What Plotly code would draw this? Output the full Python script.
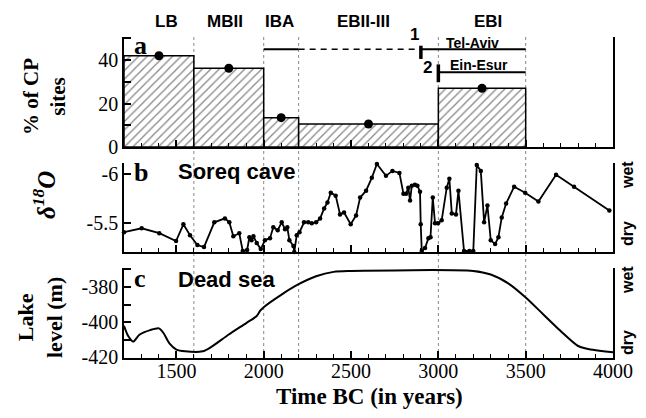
import plotly.graph_objects as go

# ---------------- data ----------------
period_names = ["LB", "MBII", "IBA", "EBII-III", "EBI"]
period_start = [1200, 1600, 2000, 2200, 3000]
period_end = [1600, 2000, 2200, 3000, 3500]
cp_sites_pct = [42, 36.2, 13.5, 10.6, 27]

boundaries = [1600, 2000, 2200, 3000, 3500]

iba_line = [2000, 2200]
dashed_line = [2200, 2900]
tel_aviv_line = [2900, 3500]
ein_esur_line = [3000, 3500]
upper_level = 45
ein_esur_level = 34.4
tel_aviv_tick = [40.5, 46.6]
ein_esur_tick = [29.8, 38]

soreq_year = [1200, 1301, 1402, 1498, 1540, 1578, 1620, 1658, 1717, 1778, 1803, 1826, 1860,
              1880, 1905, 1918, 1930, 1941, 1960, 1983, 2007, 2036, 2055, 2080, 2103, 2122,
              2135, 2147, 2170, 2175, 2189, 2205, 2231, 2255, 2275, 2300, 2323, 2346, 2365,
              2384, 2412, 2437, 2460, 2498, 2529, 2552, 2586, 2619, 2648, 2700, 2737, 2777,
              2800, 2815, 2828, 2838, 2848, 2866, 2880, 2895, 2899, 2905, 2924, 2943, 2955,
              2968, 2981, 2998, 3019, 3048, 3063, 3077, 3101, 3115, 3147, 3178, 3200, 3220,
              3243, 3262, 3281, 3300, 3325, 3344, 3363, 3388, 3434, 3497, 3573, 3674, 3777, 3979]
soreq_d18o = [-5.41, -5.45, -5.40, -5.32, -5.49, -5.38, -5.28, -5.26, -5.51, -5.55, -5.51, -5.37, -5.40,
              -5.22, -5.23, -5.36, -5.33, -5.37, -5.30, -5.24, -5.33, -5.35, -5.46, -5.43, -5.51, -5.44,
              -5.46, -5.33, -5.27, -5.21, -5.38, -5.41, -5.51, -5.51, -5.50, -5.51, -5.55, -5.65, -5.71,
              -5.81, -5.78, -5.59, -5.61, -5.49, -5.58, -5.76, -5.83, -5.96, -6.10, -5.98, -6.03, -6.01,
              -5.80, -5.80, -5.86, -5.73, -5.88, -5.89, -5.88, -5.82, -5.49, -5.22, -5.25, -5.35, -5.36,
              -5.76, -5.50, -5.50, -5.53, -5.86, -5.95, -5.60, -5.59, -5.83, -5.22, -5.22, -5.22, -6.09,
              -6.03, -5.51, -5.68, -5.33, -5.29, -5.36, -5.56, -5.70, -5.87, -5.81, -5.72, -5.99, -5.87, -5.63]

dead_sea_year = [1200, 1225, 1252, 1290, 1350, 1400, 1425, 1460, 1500, 1550, 1650, 1700, 1800,
                 1900, 1960, 1980, 2000, 2100, 2200, 2300, 2400, 2500, 3200, 3300, 3400, 3500,
                 3600, 3700, 3800, 3850, 4000]
dead_sea_level = [-402, -408, -411, -407, -404.5, -403.5, -406, -412, -415.5, -416.5, -416.5, -414, -407,
                  -400.5, -396.5, -393.5, -391.5, -384.5, -378.5, -374, -371.5, -371, -371, -373, -378, -386,
                  -395.5, -405, -413.5, -415, -417]

x_ticks = [1500, 2000, 2500, 3000, 3500, 4000]

# ---------------- layout geometry (window pixels) ----------------
W, H = 646, 418
OFF = 8  # default page body margin
L, R, T, B = 124, 613, 37, 358


def px(x):
    return (x - L) / (R - L)


def py(y):
    return (B - y) / (B - T)


SERIF = "Liberation Serif"
SANS = "Liberation Sans"

fig = go.Figure()

# panel a: bars
centers = [(s + e) / 2 for s, e in zip(period_start, period_end)]
widths = [e - s for s, e in zip(period_start, period_end)]
fig.add_trace(go.Bar(
    x=centers, y=cp_sites_pct, width=widths, xaxis="x", yaxis="y",
    marker=dict(color="white", line=dict(color="black", width=1.5),
                pattern=dict(shape="/", fgcolor="#111", bgcolor="white", size=6, solidity=0.22)),
    showlegend=False, hoverinfo="skip"))
fig.add_trace(go.Scatter(
    x=centers, y=cp_sites_pct, mode="markers", xaxis="x", yaxis="y",
    marker=dict(color="black", size=9), showlegend=False))

line_style = dict(color="black", width=2)
fig.add_trace(go.Scatter(x=iba_line, y=[upper_level] * 2, mode="lines", line=line_style,
                         xaxis="x", yaxis="y", showlegend=False, cliponaxis=False))
fig.add_trace(go.Scatter(x=dashed_line, y=[upper_level] * 2, mode="lines",
                         line=dict(color="black", width=1.5, dash="6px,5px"),
                         xaxis="x", yaxis="y", showlegend=False, cliponaxis=False))
fig.add_trace(go.Scatter(x=tel_aviv_line, y=[upper_level] * 2, mode="lines", line=line_style,
                         xaxis="x", yaxis="y", showlegend=False, cliponaxis=False))
fig.add_trace(go.Scatter(x=ein_esur_line, y=[ein_esur_level] * 2, mode="lines", line=line_style,
                         xaxis="x", yaxis="y", showlegend=False, cliponaxis=False))
fig.add_trace(go.Scatter(x=[tel_aviv_line[0]] * 2, y=tel_aviv_tick, mode="lines",
                         line=dict(color="black", width=3.5),
                         xaxis="x", yaxis="y", showlegend=False, cliponaxis=False))
fig.add_trace(go.Scatter(x=[ein_esur_line[0]] * 2, y=ein_esur_tick, mode="lines",
                         line=dict(color="black", width=3.5),
                         xaxis="x", yaxis="y", showlegend=False, cliponaxis=False))

# panel b: Soreq cave
fig.add_trace(go.Scatter(x=soreq_year, y=soreq_d18o, mode="lines+markers", xaxis="x2", yaxis="y2",
                         line=dict(color="black", width=1.8), marker=dict(color="black", size=4.5),
                         showlegend=False, cliponaxis=False))

# panel c: Dead sea
fig.add_trace(go.Scatter(x=dead_sea_year, y=dead_sea_level, mode="lines", xaxis="x3", yaxis="y3",
                         line=dict(color="black", width=2, shape="spline", smoothing=0.8),
                         showlegend=False))

# dotted boundary lines spanning all panels
for b in boundaries:
    fig.add_shape(type="line", xref="x", yref="paper", x0=b, x1=b, y0=0, y1=1,
                  line=dict(color="#888", width=1, dash="dot"), layer="below")

tickfont = dict(family=SERIF, size=20, color="black")


def xax(anchor, labels):
    d = dict(domain=[0, 1], range=[1200, 4000], anchor=anchor, showline=True, linecolor="black",
             linewidth=1.5, ticks="inside", ticklen=7, tickwidth=1.5, tickcolor="black",
             tickvals=x_ticks, showticklabels=labels, tickfont=tickfont, showgrid=False,
             zeroline=False, minor=dict(ticks="inside", dtick=100, tick0=1200, ticklen=4,
                                        tickwidth=1.2, tickcolor="black", showgrid=False))
    if labels:
        d["ticklabelstandoff"] = -6
    return d


def yax(anchor, dom, rng, vals, text, minor_dtick=None):
    d = dict(domain=dom, range=rng, anchor=anchor, showline=True, linecolor="black", linewidth=1.5,
             mirror=True, ticks="inside", ticklen=7, tickwidth=1.5, tickcolor="black",
             tickvals=vals, ticktext=text, tickfont=tickfont, showgrid=False, zeroline=False)
    if minor_dtick:
        d["minor"] = dict(ticks="inside", dtick=minor_dtick, ticklen=7, tickwidth=1.5,
                          tickcolor="black", showgrid=False)
    return d


fig.update_layout(
    width=W - OFF, height=H - OFF, plot_bgcolor="white", paper_bgcolor="white",
    margin=dict(l=L - OFF, r=W - R, t=T - OFF, b=H - B),
    showlegend=False,
    xaxis=xax("y", False),
    xaxis2=xax("y2", False),
    xaxis3=xax("y3", True),
    yaxis=yax("x", [py(147), 1], [0, 50.6], [0, 20, 40], ["0", "20", "40"], 10),
    yaxis2=yax("x2", [py(252), py(163)], [-5.21, -6.11], [-6, -5.5], ["-6", "-5.5"]),
    yaxis3=yax("x3", [0, py(268)], [-420.3, -369.3], [-420, -400, -380], ["-420", "-400", "-380"], 10),
)

ann = []


def add_text(x, y, text, font, angle=0, xanchor="center", yanchor="middle"):
    ann.append(dict(x=px(x), y=py(y), xref="paper", yref="paper", text=text, showarrow=False,
                    font=font, textangle=angle, xanchor=xanchor, yanchor=yanchor))


period_font = dict(family=SANS, size=17, color="black")
for name, xpos in zip(period_names, [166, 225, 279, 363, 488]):
    add_text(xpos, 21, "<b>%s</b>" % name, period_font)

small_font = dict(family=SANS, size=14, color="black")
add_text(472, 43, "<b>Tel-Aviv</b>", small_font)
add_text(479, 65, "<b>Ein-Esur</b>", small_font)
num_font = dict(family=SANS, size=17, color="black")
add_text(414, 34, "<b>1</b>", num_font)
add_text(427, 67, "<b>2</b>", num_font)

letter_font = dict(family=SERIF, size=26, color="black")
add_text(132, 45, "<b>a</b>", letter_font, xanchor="left")
add_text(132, 172, "<b>b</b>", letter_font, xanchor="left")
add_text(132, 278, "<b>c</b>", letter_font, xanchor="left")
title_font = dict(family=SANS, size=22, color="black")
add_text(176, 171, "<b>Soreq cave</b>", title_font, xanchor="left")
add_text(176, 279, "<b>Dead sea</b>", title_font, xanchor="left")

wd_font = dict(family=SANS, size=16, color="black")
add_text(627, 175, "<b>wet</b>", wd_font, angle=-90)
add_text(627, 234, "<b>dry</b>", wd_font, angle=-90)
add_text(627, 280, "<b>wet</b>", wd_font, angle=-90)
add_text(627, 343, "<b>dry</b>", wd_font, angle=-90)

axis_title_font = dict(family=SERIF, size=22, color="black")
add_text(44, 97, "<b>% of CP<br>sites</b>", dict(family=SERIF, size=21, color="black"), angle=-90)
add_text(44, 195, "<b><i>δ<sup>18</sup>O</i></b>", dict(family=SERIF, size=25, color="black"), angle=-90)
add_text(40, 318, "<b>Lake<br>level (m)</b>", axis_title_font, angle=-90)
add_text(369, 396, "<b>Time BC (in years)</b>", dict(family=SERIF, size=23, color="black"))

fig.update_layout(annotations=ann)
fig.write_html("out.html")
